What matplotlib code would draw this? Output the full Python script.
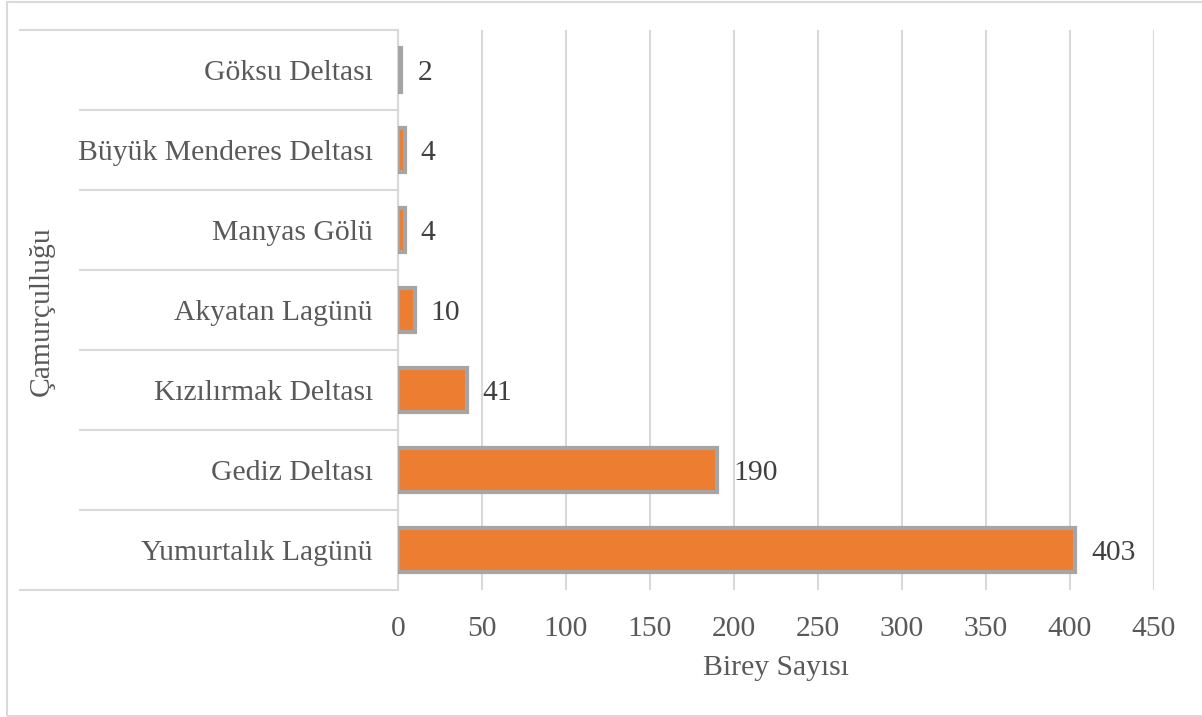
import matplotlib
matplotlib.use("Agg")
import matplotlib.pyplot as plt
from matplotlib.patches import Rectangle

categories = ["Yumurtalık Lagünü", "Gediz Deltası", "Kızılırmak Deltası",
              "Akyatan Lagünü", "Manyas Gölü", "Büyük Menderes Deltası", "Göksu Deltası"]
values = [403, 190, 41, 10, 4, 4, 2]
xticks = [0, 50, 100, 150, 200, 250, 300, 350, 400, 450]
group_label = "Çamurçulluğu"
x_title = "Birey Sayısı"

plt.rcParams['font.family'] = ['Liberation Serif', 'DejaVu Serif']

FS = 21.3
W, H = 1202, 717
fig = plt.figure(figsize=(W / 100, H / 100), dpi=100)
fig.patch.set_facecolor("white")

# outer chart border
fig.add_artist(Rectangle((7 / W, 1 / H), (1210 - 7) / W, (715 - 1) / H,
                         transform=fig.transFigure, fill=False,
                         edgecolor="#D9D9D9", linewidth=1.5))

x0, x1 = 398, 1154
yt, yb = 30, 590
ax = fig.add_axes([x0 / W, 1 - yb / H, (x1 - x0) / W, (yb - yt) / H])

ypos = list(range(len(categories)))
ax.barh(ypos, values, height=0.54, color="#ED7D31", edgecolor="#A5A5A5",
        linewidth=3, zorder=3)

for y, v in zip(ypos, values):
    ax.annotate(str(v), xy=(v, y), xytext=(11.5, 0), textcoords="offset points",
                va="center_baseline", ha="left", fontsize=FS,
                color="#404040", zorder=4)

ax.set_xlim(0, 450)
ax.set_ylim(-0.5, len(categories) - 0.5)
ax.set_xticks(xticks)
ax.set_xticklabels([str(t) for t in xticks], fontsize=FS, color="#595959")
ax.tick_params(axis="x", length=0, pad=19)
ax.set_yticks(ypos)
ax.set_yticklabels(categories, fontsize=FS, color="#595959")
ax.tick_params(axis="y", length=0, pad=18)
ax.grid(axis="x", color="#D9D9D9", linewidth=1.5, zorder=0)
for s in ["top", "right", "bottom"]:
    ax.spines[s].set_visible(False)
ax.spines["left"].set_color("#D9D9D9")
ax.spines["left"].set_linewidth(1.5)

# multi-level category separators
tr = ax.get_yaxis_transform()
left_outer = (20 - x0) / (x1 - x0)
left_inner = (80 - x0) / (x1 - x0)
n = len(categories)
for i in range(n + 1):
    yy = i - 0.5
    xl = left_outer if i in (0, n) else left_inner
    ax.plot([xl, 0], [yy, yy], transform=tr, color="#D9D9D9", linewidth=1.5,
            clip_on=False, zorder=1)

fig.text(42 / W, 1 - 311 / H, group_label, rotation=90, ha="center", va="center",
         fontsize=FS, color="#595959")
fig.text((x0 + x1) / 2 / W, 1 - 668 / H, x_title, ha="center", va="center",
         fontsize=FS, color="#595959")

fig.savefig("out.png", dpi=100, facecolor="white")
